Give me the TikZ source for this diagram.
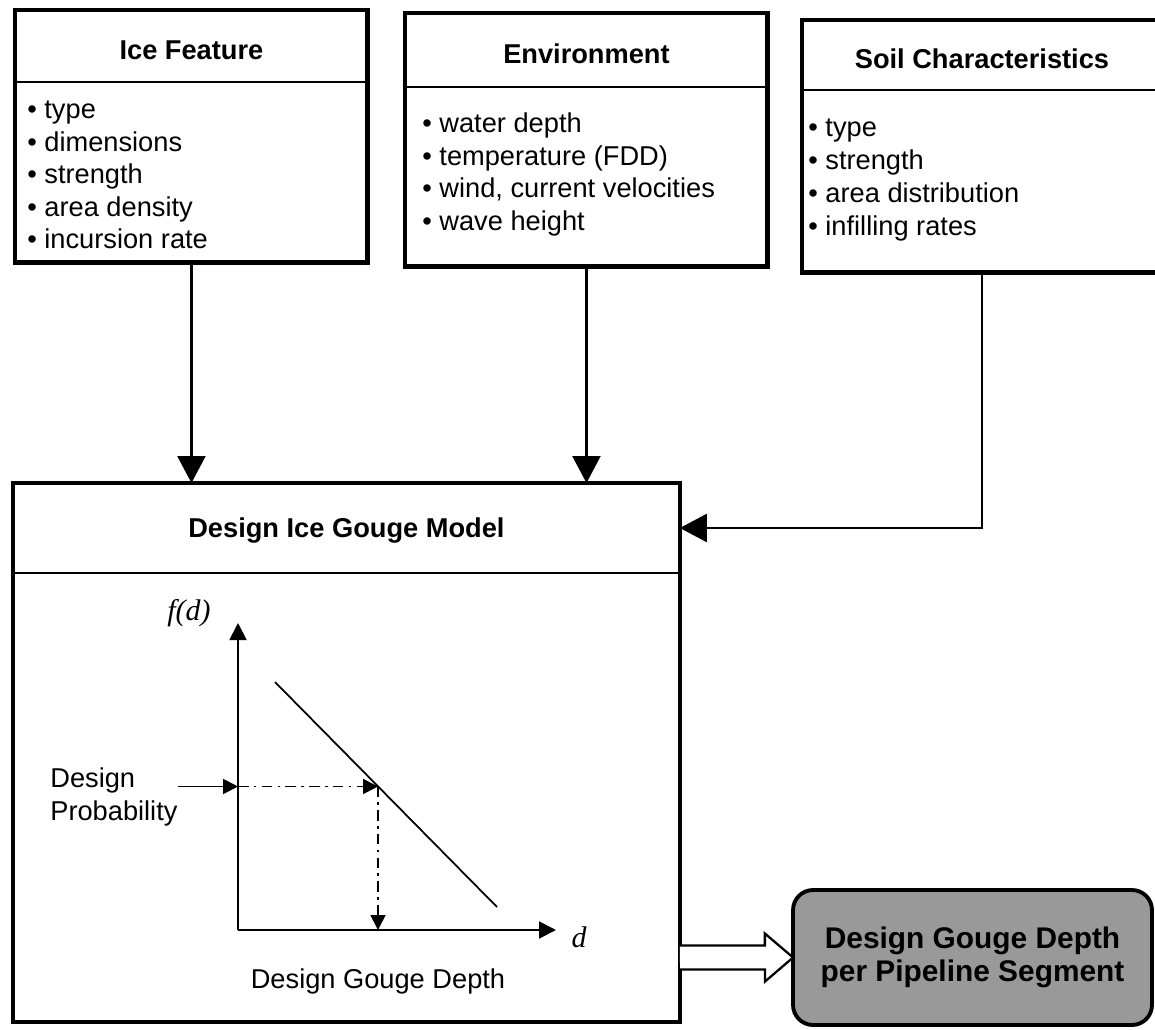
\documentclass[tikz,border=0pt]{standalone}
\usepackage{fontspec}
\setmainfont{Liberation Sans}
\newfontfamily\timesfont{Liberation Serif}
\usepackage{tikz}
\usetikzlibrary{arrows.meta}

\tikzset{
  panel/.style  = {draw, rectangle, line width=2.8pt, anchor=north west,
                   outer sep=0pt, inner sep=0pt},
  head/.style   = {rectangle, anchor=north west, outer sep=0pt, inner sep=0pt,
                   text depth=0pt, font=\fontsize{15.5}{18.7}\selectfont\bfseries},
  item/.style   = {anchor=base west, inner sep=0pt},
  rule/.style   = {line width=1.4pt},
  flow/.style   = {line width=1.3pt, -{Triangle[length=0.54cm, width=0.56cm]}},
  axis/.style   = {line width=1.1pt, -{Triangle[length=0.34cm, width=0.34cm]}},
  pointer/.style= {line width=1.1pt, -{Triangle[length=0.3cm, width=0.3cm]}},
  guide/.style  = {pointer, line width=1pt,
                   dash pattern=on 6pt off 3pt on 1.5pt off 3pt},
  outcome/.style= {draw, line width=2.2pt, rounded corners=0.4cm, fill=black!40,
                   outer sep=0pt, align=center,
                   font=\fontsize{17}{18.7}\selectfont\bfseries},
  outlet/.style = {draw, line width=1.3pt, fill=white, line join=miter},
  math/.style   = {inner sep=0pt, font=\fontsize{17}{20}\timesfont\itshape}
}

\begin{document}
\begin{tikzpicture}[x=0.02cm, y=-0.02cm, font=\fontsize{15.5}{18.7}\selectfont]
\useasboundingbox (0,0) rectangle (1155,1030);

%%% input boxes
\node (ice) [panel, minimum width=7.06cm, minimum height=5.06cm] at (15,10) {};
\node (icehead) [head, minimum width=7.06cm, minimum height=1.44cm, text height=0.56cm]
      at (ice.north west) {Ice Feature};
\draw[rule] (icehead.south west) -- (icehead.south east);
\foreach \txt [count=\i] in {type, dimensions, strength, area density, incursion rate}
    \node (ice-\i) [item] at (27, 86.5+32.5*\i) {\textbullet\ \txt};

\node (env) [panel, minimum width=7.26cm, minimum height=5.08cm] at (405,13) {};
\node (envhead) [head, minimum width=7.26cm, minimum height=1.48cm, text height=0.56cm]
      at (env.north west) {Environment};
\draw[rule] (envhead.south west) -- (envhead.south east);
\foreach \txt [count=\i] in {water depth, temperature (FDD),
                             {wind, current velocities}, wave height}
    \node (env-\i) [item] at (422, 100.5+32.5*\i) {\textbullet\ \txt};

\node (soil) [panel, minimum width=7.2cm, minimum height=5.06cm] at (802,20) {};
\node (soilhead) [head, minimum width=7.2cm, minimum height=1.4cm, text height=0.56cm]
      at (soil.north west) {Soil Characteristics};
\draw[rule] (soilhead.south west) -- (soilhead.south east);
\foreach \txt [count=\i] in {type, strength, area distribution, infilling rates}
    \node (soil-\i) [item] at (808, 104+33*\i) {\textbullet\ \txt};

%%% model box
\node (model) [panel, line width=2.2pt, minimum width=13.34cm, minimum height=10.78cm]
      at (13,483) {};
\node (mhead) [head, minimum width=13.34cm, minimum height=1.8cm]
      at (model.north west) {Design Ice Gouge Model};
\draw[rule] (mhead.south west) -- (mhead.south east);

\draw[flow] (ice.south) -- (ice.south |- model.north);
\draw[flow] (env.south) -- (env.south |- model.north);
\draw[flow] (soil.south) |- (mhead.east);

%%% f(d) sketch
\coordinate (O) at (238,930);
\coordinate (ytip) at (238,623);
\coordinate (xtip) at (556,930);
\coordinate (c1) at (275,682);
\coordinate (c2) at (497,907);
\coordinate (P) at (378,786.5);
\coordinate (pin) at (O |- P);
\draw[axis] (O) -- (ytip);
\draw[axis] (O) -- (xtip);
\draw[line width=1pt] (c1) -- (c2);
\node (fd) [math] at (189,613) {f(d)};
\node (dd) [math] at (579,937) {d};

\node (prob) [anchor=west, align=left, inner sep=0pt] at (50,797) {Design\\Probability};
\draw[pointer] (prob.east |- P) -- (pin);
\draw[guide] (pin) -- (P);
\draw[guide] (P) -- (P |- O);
\node (depth) [anchor=base] at (378,988) {Design Gouge Depth};

%%% result
\node (result) [outcome, minimum width=7.18cm, minimum height=2.7cm] at (972.5,957.5)
      {Design Gouge Depth\\per Pipeline Segment};
\draw[outlet] (model.east |- result.west) ++(0,-12) -- ++(85,0) -- ++(0,-12)
      -- (result.west) -- ++(-28,24) -- ++(0,-12) -- ++(-85,0);
\end{tikzpicture}
\end{document}
